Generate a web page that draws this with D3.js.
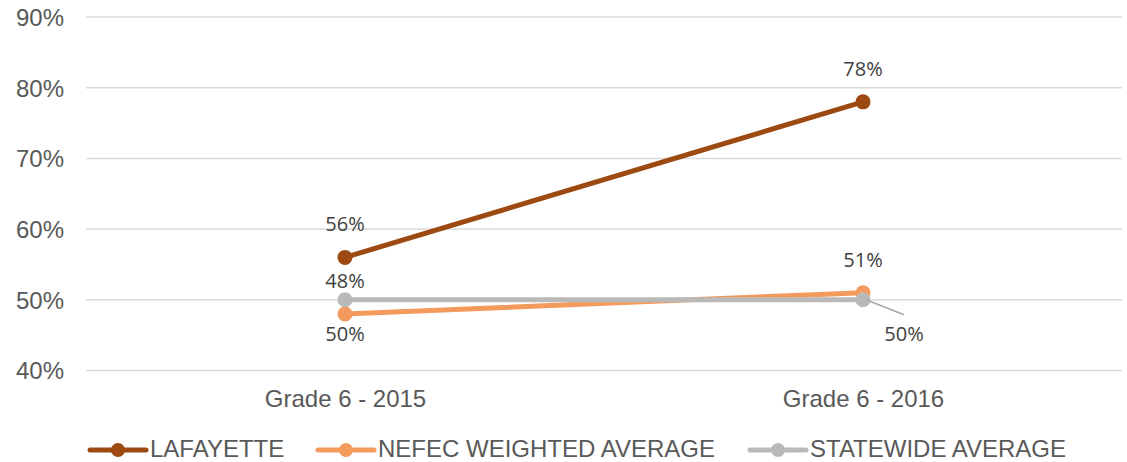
<!DOCTYPE html>
<html>
<head>
<meta charset="utf-8">
<script src="https://cdn.jsdelivr.net/npm/d3@7/dist/d3.min.js"></script>
<style>
  html, body { margin: 0; padding: 0; background: #fff; }
  svg { display: block; }
</style>
</head>
<body>
<svg id="chart" width="1127" height="462"></svg>
<script>
// Chart data
const categories = ["Grade 6 - 2015", "Grade 6 - 2016"];
const seriesNames = ["LAFAYETTE", "NEFEC WEIGHTED AVERAGE", "STATEWIDE AVERAGE"];
const lafayette = [56, 78];
const nefec = [48, 51];
const statewide = [50, 50];
const yTicks = [40, 50, 60, 70, 80, 90];

const colors = ["#9c4a11", "#f39a5c", "#b9b9b9"];
const seriesValues = [lafayette, nefec, statewide];

const svg = d3.select("#chart");
const plot = { left: 86, right: 1122, top: 17, bottom: 370.5 };
const axisFont = "'Liberation Sans', Arial, sans-serif";
const axisSize = 24;

const x = d3.scalePoint().domain(categories).range([plot.left, plot.right]).padding(0.5);
const y = d3.scaleLinear().domain([40, 90]).range([plot.bottom, plot.top]);

// Gridlines
svg.append("g")
  .selectAll("line")
  .data(yTicks)
  .join("line")
  .attr("x1", plot.left).attr("x2", plot.right)
  .attr("y1", d => y(d)).attr("y2", d => y(d))
  .attr("stroke", "#d9d9d9").attr("stroke-width", 1.5);

// Y axis labels
const yAxis = d3.axisLeft(y).tickValues(yTicks).tickFormat(d => d + "%").tickSize(0).tickPadding(0);
const yg = svg.append("g").attr("transform", `translate(${plot.left - 22},0)`).call(yAxis);
yg.select(".domain").remove();
yg.selectAll("text")
  .attr("font-family", axisFont)
  .attr("font-size", axisSize)
  .attr("fill", "#595959")
  .attr("dy", "0.35em");

// X axis labels
const xAxis = d3.axisBottom(x).tickSize(0).tickPadding(0);
const xg = svg.append("g").attr("transform", `translate(0,${plot.bottom + 28})`).call(xAxis);
xg.select(".domain").remove();
xg.selectAll("text")
  .attr("font-family", axisFont)
  .attr("font-size", axisSize)
  .attr("fill", "#595959")
  .attr("dy", "0.35em");

// Lines and markers
const line = d3.line().x((d, i) => x(categories[i])).y(d => y(d));
seriesValues.forEach((vals, s) => {
  const g = svg.append("g");
  g.append("path")
    .attr("d", line(vals))
    .attr("fill", "none")
    .attr("stroke", colors[s])
    .attr("stroke-width", 5)
    .attr("stroke-linecap", "round");
  g.selectAll("circle")
    .data(vals)
    .join("circle")
    .attr("cx", (d, i) => x(categories[i]))
    .attr("cy", d => y(d))
    .attr("r", 7.5)
    .attr("fill", colors[s]);
});

// Data labels: offsets per series/category (dx, dy in px from the marker)
const labelOffsets = [
  [[0, -33], [0, -33]],
  [[0, -33], [0, -33]],
  [[0, 34], [41, 34]]
];
const labelFont = "'Open Sans', 'Noto Sans', sans-serif";

// Leader line for the displaced statewide 2016 label
svg.append("line")
  .attr("x1", x(categories[1]) + 3).attr("y1", y(statewide[1]))
  .attr("x2", x(categories[1]) + 41).attr("y2", y(statewide[1]) + 15)
  .attr("stroke", "#a6a6a6").attr("stroke-width", 1.5);

seriesValues.forEach((vals, s) => {
  svg.append("g")
    .selectAll("text")
    .data(vals)
    .join("text")
    .attr("x", (d, i) => x(categories[i]) + labelOffsets[s][i][0])
    .attr("y", (d, i) => y(d) + labelOffsets[s][i][1])
    .attr("dy", "0.35em")
    .attr("text-anchor", "middle")
    .attr("font-family", labelFont)
    .attr("font-size", 20)
    .attr("fill", "#404040")
    .text(d => d + "%");
});

// Legend
const legendItems = [
  { x: 90, textX: 150 },
  { x: 318, textX: 378 },
  { x: 750, textX: 810 }
];
const legend = svg.append("g");
seriesNames.forEach((name, s) => {
  const it = legendItems[s];
  const g = legend.append("g");
  g.append("line")
    .attr("x1", it.x).attr("x2", it.x + 56)
    .attr("y1", 450).attr("y2", 450)
    .attr("stroke", colors[s]).attr("stroke-width", 5)
    .attr("stroke-linecap", "round");
  g.append("circle")
    .attr("cx", it.x + 28).attr("cy", 450).attr("r", 7)
    .attr("fill", colors[s]);
  g.append("text")
    .attr("x", it.textX).attr("y", 449)
    .attr("dy", "0.35em")
    .attr("font-family", axisFont)
    .attr("font-size", axisSize)
    .attr("fill", "#595959")
    .text(name);
});
</script>
</body>
</html>
